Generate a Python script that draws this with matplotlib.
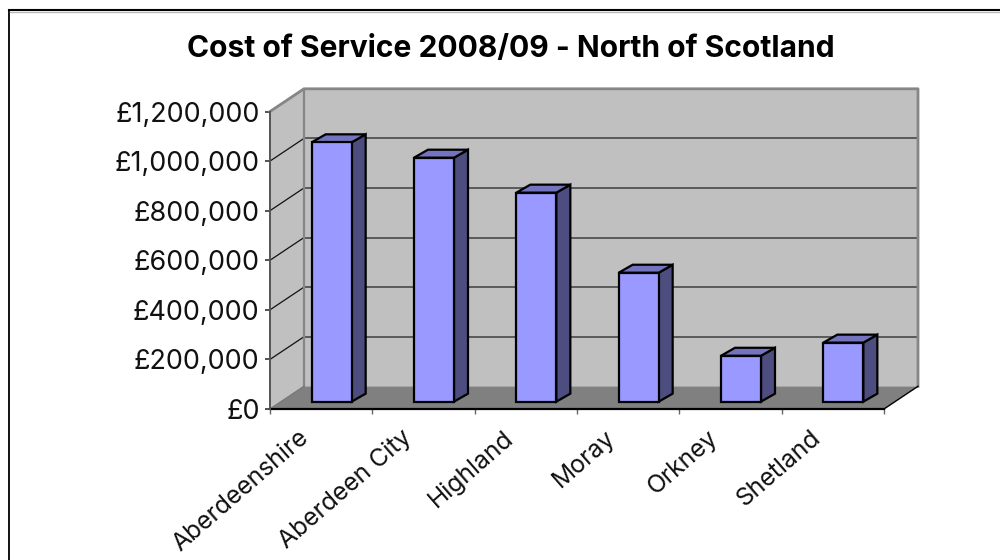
#!/usr/bin/python

import matplotlib
matplotlib.use('Agg')
import matplotlib.pyplot as plt
from matplotlib.patches import Polygon
from matplotlib.lines import Line2D

categories = ['Aberdeenshire', 'Aberdeen City', 'Highland', 'Moray', 'Orkney', 'Shetland']
cost_values = [1046000, 984000, 843000, 520000, 185000, 238000]
value_ticks = [0, 200000, 400000, 600000, 800000, 1000000, 1200000]
value_labels = ['£0', '£200,000', '£400,000', '£600,000', '£800,000', '£1,000,000', '£1,200,000']

plt.rcParams['font.family'] = ['Inter', 'Liberation Sans', 'DejaVu Sans']

fig = plt.figure(figsize=(10, 5.6), dpi=100, facecolor='white')

# chart frame runs off the right and bottom of the page
fig.add_artist(Line2D([0.0085, 0.0085], [0, 0.982], color='black', lw=1.3))
fig.add_artist(Line2D([0.0085, 1], [0.982, 0.982], color='black', lw=1.5))
fig.add_artist(Line2D([0.0095, 1], [0.979, 0.979], color='#bbbbbb', lw=1))

# axes cover the front plane of the 3d box
ax = fig.add_axes([0.270, 151 / 560, 0.614, 297.5 / 560])
ax.set_xlim(0, 6)
ax.set_ylim(0, 1200000)
ax.patch.set_visible(False)
for side in ax.spines.values():
    side.set_visible(False)

# px to data units
px_x = 6 / 614.0
px_y = 1200000 / 297.5

wall_dx = 34 * px_x
wall_dy = 22.7 * px_y
bar_dx = 14 * px_x
bar_dy = 8 * px_y
bar_w = 40 * px_x
top = value_ticks[-1]

wall_col = '#C0C0C0'
edge_col = '#868686'

# floor, side wall, back wall
ax.add_patch(Polygon([(0, 0), (6, 0), (6 + wall_dx, wall_dy), (wall_dx, wall_dy)],
                     fc='#808080', ec='none', clip_on=False, zorder=1))
ax.add_patch(Polygon([(0, 0), (wall_dx, wall_dy), (wall_dx, top + wall_dy), (0, top)],
                     fc=wall_col, ec='none', clip_on=False, zorder=1))
ax.add_patch(Polygon([(wall_dx, wall_dy), (6 + wall_dx, wall_dy), (6 + wall_dx, top + wall_dy), (wall_dx, top + wall_dy)],
                     fc=wall_col, ec='none', clip_on=False, zorder=1))

# gridlines on the back wall and the thin diagonals on the side wall
for v in value_ticks[1:-1]:
    ax.plot([wall_dx, 6 + wall_dx], [v + wall_dy, v + wall_dy], color='#5a5a5a', lw=1.4, clip_on=False, zorder=2)
    ax.plot([0, wall_dx], [v, v + wall_dy], color='#111111', lw=0.9, clip_on=False, zorder=2)

ax.plot([0, wall_dx, 6 + wall_dx, 6 + wall_dx], [top, top + wall_dy, top + wall_dy, wall_dy],
        color=edge_col, lw=2, clip_on=False, zorder=2)
ax.plot([wall_dx, wall_dx], [wall_dy, top + wall_dy], color=edge_col, lw=1.6, clip_on=False, zorder=2)
ax.plot([0, wall_dx], [0, wall_dy], color='#777777', lw=1, clip_on=False, zorder=2)
ax.plot([6, 6 + wall_dx], [0, wall_dy], color='black', lw=1, clip_on=False, zorder=2)

# bars
shift_x = (wall_dx - bar_dx) / 2
shift_y = (wall_dy - bar_dy) / 2
for i, val in enumerate(cost_values):
    x0 = i + 0.5 + shift_x - bar_w / 2 + 0.5 * px_x
    x1 = x0 + bar_w
    y0 = shift_y
    y1 = shift_y + val
    ax.add_patch(Polygon([(x1, y0), (x1 + bar_dx, y0 + bar_dy), (x1 + bar_dx, y1 + bar_dy), (x1, y1)],
                         fc='#4D4D80', ec='black', lw=1.6, clip_on=False, zorder=3, joinstyle='miter'))
    ax.add_patch(Polygon([(x0, y1), (x1, y1), (x1 + bar_dx, y1 + bar_dy), (x0 + bar_dx, y1 + bar_dy)],
                         fc='#7373BF', ec='black', lw=1.6, clip_on=False, zorder=3, joinstyle='miter'))
    ax.add_patch(Polygon([(x0, y0), (x1, y0), (x1, y1), (x0, y1)],
                         fc='#9999FF', ec='black', lw=1.6, clip_on=False, zorder=4, joinstyle='miter'))

# axis lines
ax.plot([0, 6], [0, 0], color='black', lw=1.6, clip_on=False, zorder=5)
ax.plot([0, 0], [0, top], color='#555555', lw=1.4, clip_on=False, zorder=5)

ax.set_yticks(value_ticks)
ax.set_yticklabels(value_labels, fontsize=19.4, color='#111111')
ax.tick_params(axis='y', length=3.5, width=1.3, color='#444444', pad=4)

ax.set_xticks(range(7))
ax.set_xticklabels([''] * 7)
ax.tick_params(axis='x', length=3.5, width=1, color='#666666')

# category names sit rotated under the middle of each slot
for i, name in enumerate(categories):
    ax.annotate(name, xy=(i + 0.5, 0), xytext=(-23, -17), textcoords='offset pixels',
                rotation=41, rotation_mode='anchor', ha='right', va='top',
                fontsize=17.8, color='#111111', annotation_clip=False)

fig.text(0.511, 0.913, 'Cost of Service 2008/09 - North of Scotland', ha='center', va='center',
         fontsize=21.6, fontweight='bold', color='black')

fig.savefig('out.png', dpi=100, facecolor='white')
